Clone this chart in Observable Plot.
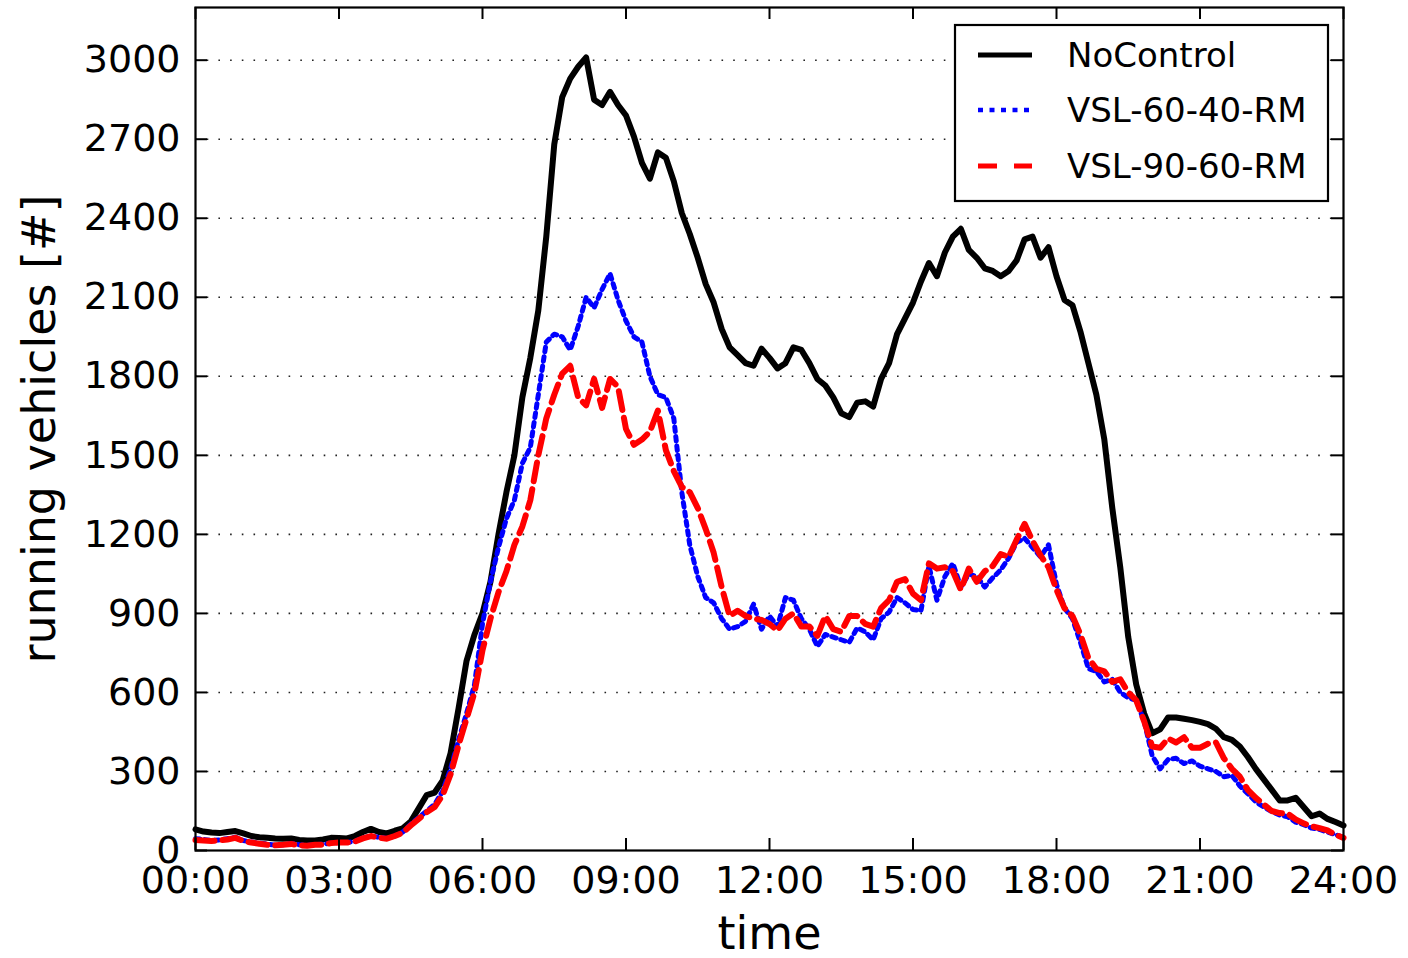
<!DOCTYPE html>
<html><head><meta charset="utf-8">
<script src="https://cdn.jsdelivr.net/npm/d3@7"></script>
<script src="https://cdn.jsdelivr.net/npm/@observablehq/plot@0.6"></script>
<style>body{margin:0;background:#fff}</style>
</head><body><div id="chart"></div>
<script>
// samples every 10 minutes from 00:00 to 24:00
const stepMinutes = 10;
const noControl = [80,72,68,66,70,74,65,55,50,48,46,45,46,40,38,38,42,48,47,46,55,70,82,70,65,75,84,110,160,210,220,265,370,540,720,820,900,1020,1200,1360,1500,1720,1870,2050,2330,2680,2860,2930,2975,3010,2850,2830,2880,2830,2790,2710,2610,2550,2650,2630,2540,2420,2340,2250,2150,2080,1980,1910,1880,1850,1840,1905,1870,1830,1850,1910,1900,1850,1790,1765,1720,1660,1645,1700,1705,1685,1790,1850,1960,2020,2080,2160,2230,2180,2270,2330,2360,2280,2250,2210,2200,2180,2200,2240,2320,2330,2250,2290,2180,2090,2070,1970,1850,1730,1560,1300,1075,810,630,520,445,460,505,505,500,495,488,480,462,430,420,395,355,310,270,230,190,190,200,165,130,140,120,108,95];
const vsl6040 = [45,42,38,40,45,50,38,32,28,25,20,22,27,22,20,22,24,28,30,30,35,48,55,50,46,55,70,100,125,150,175,225,310,420,520,630,860,1020,1150,1260,1330,1470,1530,1730,1930,1960,1950,1900,1990,2100,2060,2130,2190,2090,2010,1950,1930,1800,1730,1720,1640,1360,1160,1040,960,940,880,840,850,870,935,840,890,850,960,950,880,840,775,820,810,800,790,845,830,800,880,905,960,940,915,910,1080,950,1040,1090,1000,1050,1040,1000,1035,1065,1110,1170,1185,1150,1115,1160,1010,920,880,790,690,680,640,650,600,580,570,490,360,310,345,350,330,340,320,310,300,280,285,245,216,185,165,148,135,128,108,98,85,80,70,60,50];
const vsl9060 = [40,38,36,38,42,48,36,30,26,22,20,22,25,20,18,22,22,28,30,30,34,46,55,48,45,55,68,95,120,145,165,210,290,400,500,600,760,880,980,1060,1160,1230,1330,1500,1640,1730,1810,1840,1720,1690,1790,1680,1790,1760,1600,1540,1560,1590,1670,1520,1440,1380,1360,1300,1220,1130,1000,890,910,890,880,875,860,835,880,900,850,850,815,890,840,830,890,890,860,850,920,950,1020,1030,975,950,1090,1070,1075,1060,990,1070,1020,1060,1080,1125,1115,1180,1240,1175,1120,1075,990,920,890,820,730,690,680,640,650,600,570,490,395,390,425,410,430,390,390,405,410,350,310,280,230,200,175,150,142,140,118,103,92,85,76,60,48];
const seriesNames = ["NoControl", "VSL-60-40-RM", "VSL-90-60-RM"];
const seriesColors = ["black", "blue", "red"];
const xTicks = [0, 3, 6, 9, 12, 15, 18, 21, 24];
const xTickLabels = ["00:00", "03:00", "06:00", "09:00", "12:00", "15:00", "18:00", "21:00", "24:00"];
const yTicks = [0, 300, 600, 900, 1200, 1500, 1800, 2100, 2400, 2700, 3000];

const toRows = (vals) => vals.map((v, i) => ({t: i * stepMinutes / 60, v}));
const rowsA = toRows(noControl), rowsB = toRows(vsl6040), rowsC = toRows(vsl9060);

// frame size in px: 1148 x 843; inward ticks are 12 px long
const frameW = 1148, frameH = 843, tickLen = 12;

const plot = Plot.plot({
  width: 1408, height: 958,
  marginLeft: 195, marginRight: 65, marginTop: 7, marginBottom: 108,
  style: {fontFamily: "DejaVu Sans", background: "white", color: "black", overflow: "visible"},
  x: {domain: [0, 24]},
  y: {domain: [0, 3200]},
  marks: [
    Plot.ruleY(yTicks.slice(1), {y: d => d, stroke: "#222", strokeWidth: 1.6, strokeDasharray: "1.6,10.1"}),
    Plot.line(rowsA, {x: "t", y: "v", stroke: seriesColors[0], strokeWidth: 6}),
    Plot.line(rowsB, {x: "t", y: "v", stroke: seriesColors[1], strokeWidth: 5, strokeDasharray: "4.5,5"}),
    Plot.line(rowsC, {x: "t", y: "v", stroke: seriesColors[2], strokeWidth: 6, strokeDasharray: "19,8"}),
    Plot.axisX({ticks: xTicks, anchor: "bottom", tickSize: 0, tickPadding: 16, fontSize: 38, label: null,
      tickFormat: d => xTickLabels[xTicks.indexOf(d)]}),
    Plot.axisY({ticks: yTicks, anchor: "left", tickSize: 0, tickPadding: 15, fontSize: 38, label: null, tickFormat: d => String(d)}),
    Plot.tickX(xTicks, {x: d => d, stroke: "black", strokeWidth: 2, insetTop: frameH - tickLen}),
    Plot.tickX(xTicks, {x: d => d, stroke: "black", strokeWidth: 2, insetBottom: frameH - tickLen}),
    Plot.tickY(yTicks, {y: d => d, stroke: "black", strokeWidth: 2, insetRight: frameW - tickLen}),
    Plot.tickY(yTicks, {y: d => d, stroke: "black", strokeWidth: 2, insetLeft: frameW - tickLen}),
    Plot.frame({stroke: "black", strokeWidth: 2.2}),
    Plot.text(["time"], {text: d => d, frameAnchor: "bottom", dy: 84, lineAnchor: "middle", textAnchor: "middle", fontSize: 46, fill: "black"}),
    Plot.text(["running vehicles [#]"], {text: d => d, frameAnchor: "left", dx: -155, rotate: -90, textAnchor: "middle", lineAnchor: "middle", fontSize: 46, fill: "black"})
  ]
});
document.getElementById("chart").appendChild(plot);

// legend inside the plot (upper right)
const svg = d3.select(plot);
const lg = svg.append("g").attr("font-family", "DejaVu Sans").attr("font-size", 34).attr("text-anchor", "start");
lg.append("rect").attr("x", 955).attr("y", 25).attr("width", 373).attr("height", 176)
  .attr("fill", "white").attr("stroke", "black").attr("stroke-width", 2.2);
const legendRows = [
  {y: 55, dash: null, width: 5},
  {y: 110, dash: "5,6.5", width: 4.5},
  {y: 166, dash: "19,17", width: 5}
];
legendRows.forEach((r, i) => {
  lg.append("line").attr("x1", 978).attr("x2", 1032).attr("y1", r.y).attr("y2", r.y)
    .attr("stroke", seriesColors[i]).attr("stroke-width", r.width)
    .attr("stroke-dasharray", r.dash);
  lg.append("text").attr("x", 1067).attr("y", r.y + 12).attr("fill", "black")
    .attr("text-anchor", "start").text(seriesNames[i]);
});
</script>
</body></html>
